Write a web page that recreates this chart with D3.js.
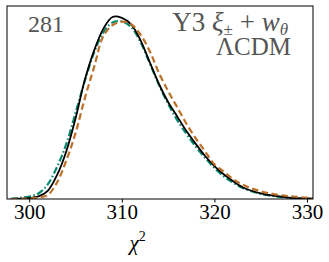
<!DOCTYPE html>
<html>
<head>
<meta charset="utf-8">
<script src="https://cdn.jsdelivr.net/npm/d3@7"></script>
<style>
  body { margin: 0; background: #fff; }
  text { font-family: "Liberation Serif", "Times New Roman", serif; }
</style>
</head>
<body>
<div id="chart"></div>
<script>
// chi2 grid and normalised densities
var chi2 = [298, 299, 300, 301, 302, 303, 304, 305, 306, 307, 308, 309, 310, 311, 312, 313, 314,
            315, 316, 317, 318, 319, 320, 321, 322, 323, 324, 325, 326, 327, 328, 329, 330, 331];
var solidSeries = [0.000, 0.002, 0.005, 0.014, 0.045, 0.13, 0.26, 0.44, 0.65, 0.81, 0.93, 0.995, 0.99,
                   0.955, 0.87, 0.75, 0.63, 0.53, 0.45, 0.37, 0.30, 0.235, 0.18, 0.135, 0.098, 0.066,
                   0.045, 0.031, 0.021, 0.014, 0.008, 0.004, 0.002, 0.001];
var dashDotSeries = [0.001, 0.006, 0.013, 0.03, 0.08, 0.175, 0.30, 0.47, 0.645, 0.80, 0.91, 0.965, 0.97,
                     0.94, 0.86, 0.745, 0.625, 0.52, 0.43, 0.355, 0.285, 0.225, 0.17, 0.125, 0.09, 0.062,
                     0.042, 0.028, 0.019, 0.012, 0.007, 0.004, 0.002, 0.001];
var dashSeries = [0.000, 0.001, 0.003, 0.008, 0.022, 0.09, 0.21, 0.36, 0.55, 0.72, 0.89, 0.95, 0.97,
                  0.955, 0.90, 0.81, 0.69, 0.59, 0.50, 0.41, 0.33, 0.26, 0.19, 0.15, 0.11, 0.08,
                  0.058, 0.042, 0.031, 0.022, 0.016, 0.012, 0.007, 0.004];
var xTicks = [300, 310, 320, 330];

var width = 329, height = 262;
var margin = {left: 7, right: 16, top: 6, bottom: 63};

var svg = d3.select('#chart').append('svg')
    .attr('width', width)
    .attr('height', height);

var x = d3.scaleLinear().domain([297.6, 330.65]).range([margin.left, width - margin.right]);
var y = d3.scaleLinear().domain([0, 1.055]).range([height - margin.bottom, margin.top]);

svg.append('defs').append('clipPath').attr('id', 'clip')
  .append('rect')
    .attr('x', margin.left).attr('y', margin.top)
    .attr('width', width - margin.left - margin.right)
    .attr('height', height - margin.top - margin.bottom);

var line = d3.line()
    .x(function(d, i) { return x(chi2[i]); })
    .y(function(d) { return y(d); })
    .curve(d3.curveCatmullRom);

var plot = svg.append('g').attr('clip-path', 'url(#clip)');

plot.append('path')
    .attr('d', line(dashDotSeries))
    .attr('fill', 'none')
    .attr('stroke', '#00896f')
    .attr('stroke-width', 2.2)
    .attr('stroke-dasharray', '7,2.5,1.5,2.5');

plot.append('path')
    .attr('d', line(solidSeries))
    .attr('fill', 'none')
    .attr('stroke', '#000')
    .attr('stroke-width', 1.8);

plot.append('path')
    .attr('d', line(dashSeries))
    .attr('fill', 'none')
    .attr('stroke', '#bb712a')
    .attr('stroke-width', 2.2)
    .attr('stroke-dasharray', '6.5,3.5');

// frame
svg.append('rect')
    .attr('x', margin.left).attr('y', margin.top)
    .attr('width', width - margin.left - margin.right)
    .attr('height', height - margin.top - margin.bottom)
    .attr('fill', 'none')
    .attr('stroke', '#000')
    .attr('stroke-width', 1);

var xAxis = svg.append('g')
    .attr('transform', 'translate(0,' + (height - margin.bottom) + ')')
    .call(d3.axisBottom(x).tickValues(xTicks).tickSize(3.5).tickPadding(2));
xAxis.select('.domain').remove();
xAxis.selectAll('text')
    .attr('fill', '#000')
    .style('font-size', '21px')
    .style('font-family', '"Liberation Serif", "Times New Roman", serif');

// axis label
var xl = svg.append('text')
    .attr('x', x(311.7))
    .attr('y', 250)
    .attr('text-anchor', 'middle')
    .style('font-size', '21px');
xl.append('tspan').attr('font-style', 'italic').text('χ');
xl.append('tspan').attr('dy', -9).style('font-size', '14px').text('2');

// annotations
svg.append('text')
    .attr('x', 28)
    .attr('y', 32)
    .attr('fill', '#555')
    .style('font-size', '24px')
    .text('281');

var t = svg.append('text')
    .attr('x', 288)
    .attr('y', 31)
    .attr('text-anchor', 'end')
    .attr('fill', '#555')
    .style('font-size', '27px');
t.append('tspan').text('Y3 ');
t.append('tspan').attr('font-style', 'italic').text('ξ');
t.append('tspan').attr('dy', 4).style('font-size', '17px').text('±');
t.append('tspan').attr('dy', -4).text(' + ');
t.append('tspan').attr('font-style', 'italic').text('w');
t.append('tspan').attr('dy', 4).attr('font-style', 'italic').style('font-size', '17px').text('θ');

svg.append('text')
    .attr('x', 291)
    .attr('y', 55)
    .attr('text-anchor', 'end')
    .attr('fill', '#555')
    .style('font-size', '25px')
    .text('ΛCDM');
</script>
</body>
</html>
